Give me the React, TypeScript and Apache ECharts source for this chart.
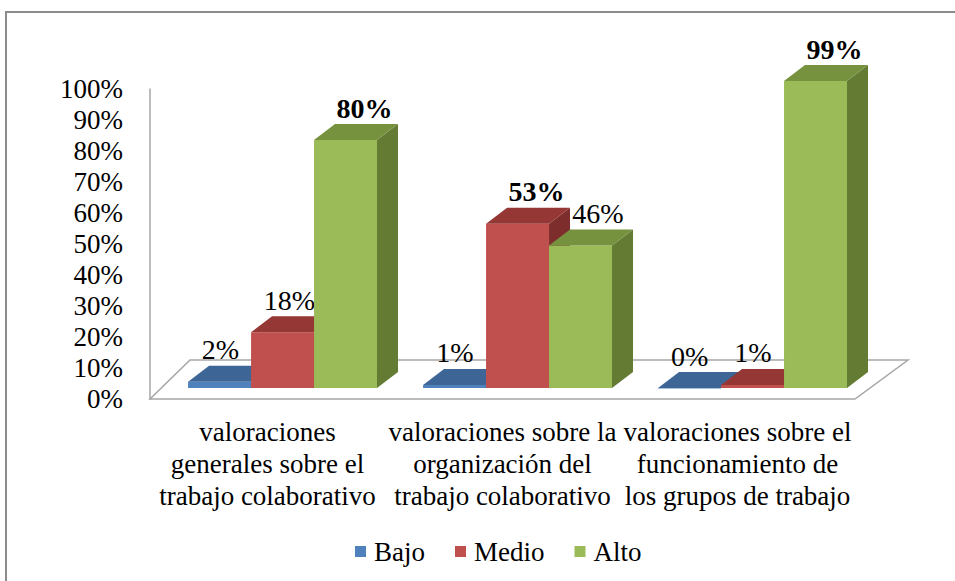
import React, { useEffect, useRef } from "react";
import * as echarts from "echarts";

const categories = [
  "valoraciones\ngenerales sobre el\ntrabajo colaborativo",
  "valoraciones sobre la\norganización del\ntrabajo colaborativo",
  "valoraciones sobre el\nfuncionamiento de\nlos grupos de trabajo",
];
const seriesNames = ["Bajo", "Medio", "Alto"];
const bajo = [2, 1, 0];
const medio = [18, 53, 1];
const alto = [80, 46, 99];
const yTicks = [0, 100, 10];

const FONT = "'Liberation Serif', 'Times New Roman', Times, serif";
const palette = [
  { front: "#4f81bd", top: "#3d6697", side: "#345886" },
  { front: "#c0504d", top: "#953735", side: "#7d2e2c" },
  { front: "#9bbb59", top: "#77923f", side: "#637b33" },
];

export default function App() {
  const ref = useRef<HTMLDivElement>(null);
  useEffect(() => {
    if (!ref.current) return;
    const chart = echarts.init(ref.current, null, { renderer: "svg" });
    const all = [bajo, medio, alto];
    const maxByCat = categories.map((_, c) => Math.max(...all.map((s) => s[c])));
    const DX = 21;
    const DY = -16;
    const BASE = -11;

    const barSeries = all.map((arr, si) => ({
      type: "custom",
      name: seriesNames[si],
      z: 3,
      itemStyle: { color: palette[si].front },
      encode: { x: 0, y: 1 },
      data: arr.map((v, i) => [i, v]),
      renderItem: (params: any, api: any) => {
        const cat = api.value(0);
        const val = api.value(1);
        const p0 = api.coord([cat, 0]);
        const p1 = api.coord([cat, val]);
        const band = api.size([1, 0])[0];
        const barW = band * 0.268;
        const start = p0[0] - band / 2 + band * 0.162;
        const x = start + si * barW;
        const yb = p0[1] + BASE;
        const yt = p1[1] + BASE;
        const c = palette[si];
        const bold = val === maxByCat[cat];
        const labelShift = Math.min(val, 50) * 0.38;
        return {
          type: "group",
          children: [
            {
              type: "polygon",
              shape: { points: [[x + barW, yt], [x + barW + DX, yt + DY], [x + barW + DX, yb + DY], [x + barW, yb]] },
              style: { fill: c.side },
            },
            {
              type: "rect",
              shape: { x, y: yt, width: barW, height: Math.max(yb - yt, 0.5) },
              style: { fill: c.front },
            },
            {
              type: "polygon",
              shape: { points: [[x, yt], [x + barW, yt], [x + barW + DX, yt + DY], [x + DX, yt + DY]] },
              style: { fill: c.top },
            },
            {
              type: "text",
              x: x + barW / 2 + labelShift,
              y: yt - 32,
              style: {
                text: val + "%",
                fontFamily: FONT,
                fontSize: 28,
                fontWeight: bold ? "bold" : "normal",
                fill: "#000",
                align: "center",
                verticalAlign: "middle",
              },
            },
          ],
        };
      },
    }));

    const floorSeries = {
      type: "custom",
      name: "floor",
      z: 1,
      silent: true,
      encode: { x: 0, y: 1 },
      data: [[0, 0]],
      renderItem: (params: any, api: any) => {
        const band = api.size([1, 0])[0];
        const l = api.coord([0, 0]);
        const r = api.coord([categories.length - 1, 0]);
        const left = l[0] - band / 2;
        const right = r[0] + band / 2;
        const y = l[1];
        return {
          type: "polygon",
          shape: { points: [[left, y], [right, y], [right + 53, y - 39], [left + 40, y - 39]] },
          style: { fill: "#fff", stroke: "#a6a6a6", lineWidth: 1.5 },
        };
      },
    };

    chart.setOption({
      animation: false,
      backgroundColor: "#fff",
      textStyle: { fontFamily: FONT },
      graphic: [
        {
          type: "rect",
          z: 100,
          silent: true,
          shape: { x: 6, y: 12, width: 1000, height: 1000 },
          style: { fill: "none", stroke: "#8c8c8c", lineWidth: 2 },
        },
      ],
      grid: { left: 150, right: 100, top: 89, bottom: 182 },
      legend: {
        data: seriesNames,
        left: 350,
        top: 533,
        icon: "rect",
        itemWidth: 11,
        itemHeight: 11,
        itemGap: 30,
        textStyle: { fontFamily: FONT, fontSize: 27, color: "#000", padding: [0, 0, 0, 3] },
      },
      xAxis: {
        type: "category",
        data: categories,
        axisLine: { show: false },
        axisTick: { show: false },
        axisLabel: {
          interval: 0,
          margin: 17,
          fontFamily: FONT,
          fontSize: 27,
          lineHeight: 32,
          color: "#000",
        },
      },
      yAxis: {
        type: "value",
        min: yTicks[0],
        max: yTicks[1],
        interval: yTicks[2],
        axisLine: { show: true, lineStyle: { color: "#a6a6a6", width: 1.5 } },
        axisTick: { show: false },
        splitLine: { show: false },
        axisLabel: {
          formatter: "{value}%",
          margin: 27,
          fontFamily: FONT,
          fontSize: 27,
          color: "#000",
        },
      },
      series: [floorSeries, ...barSeries],
    });
    return () => chart.dispose();
  }, []);
  return (
    <div
      ref={ref}
      style={{ position: "fixed", left: 0, top: 0, width: 955, height: 581 }}
    />
  );
}
